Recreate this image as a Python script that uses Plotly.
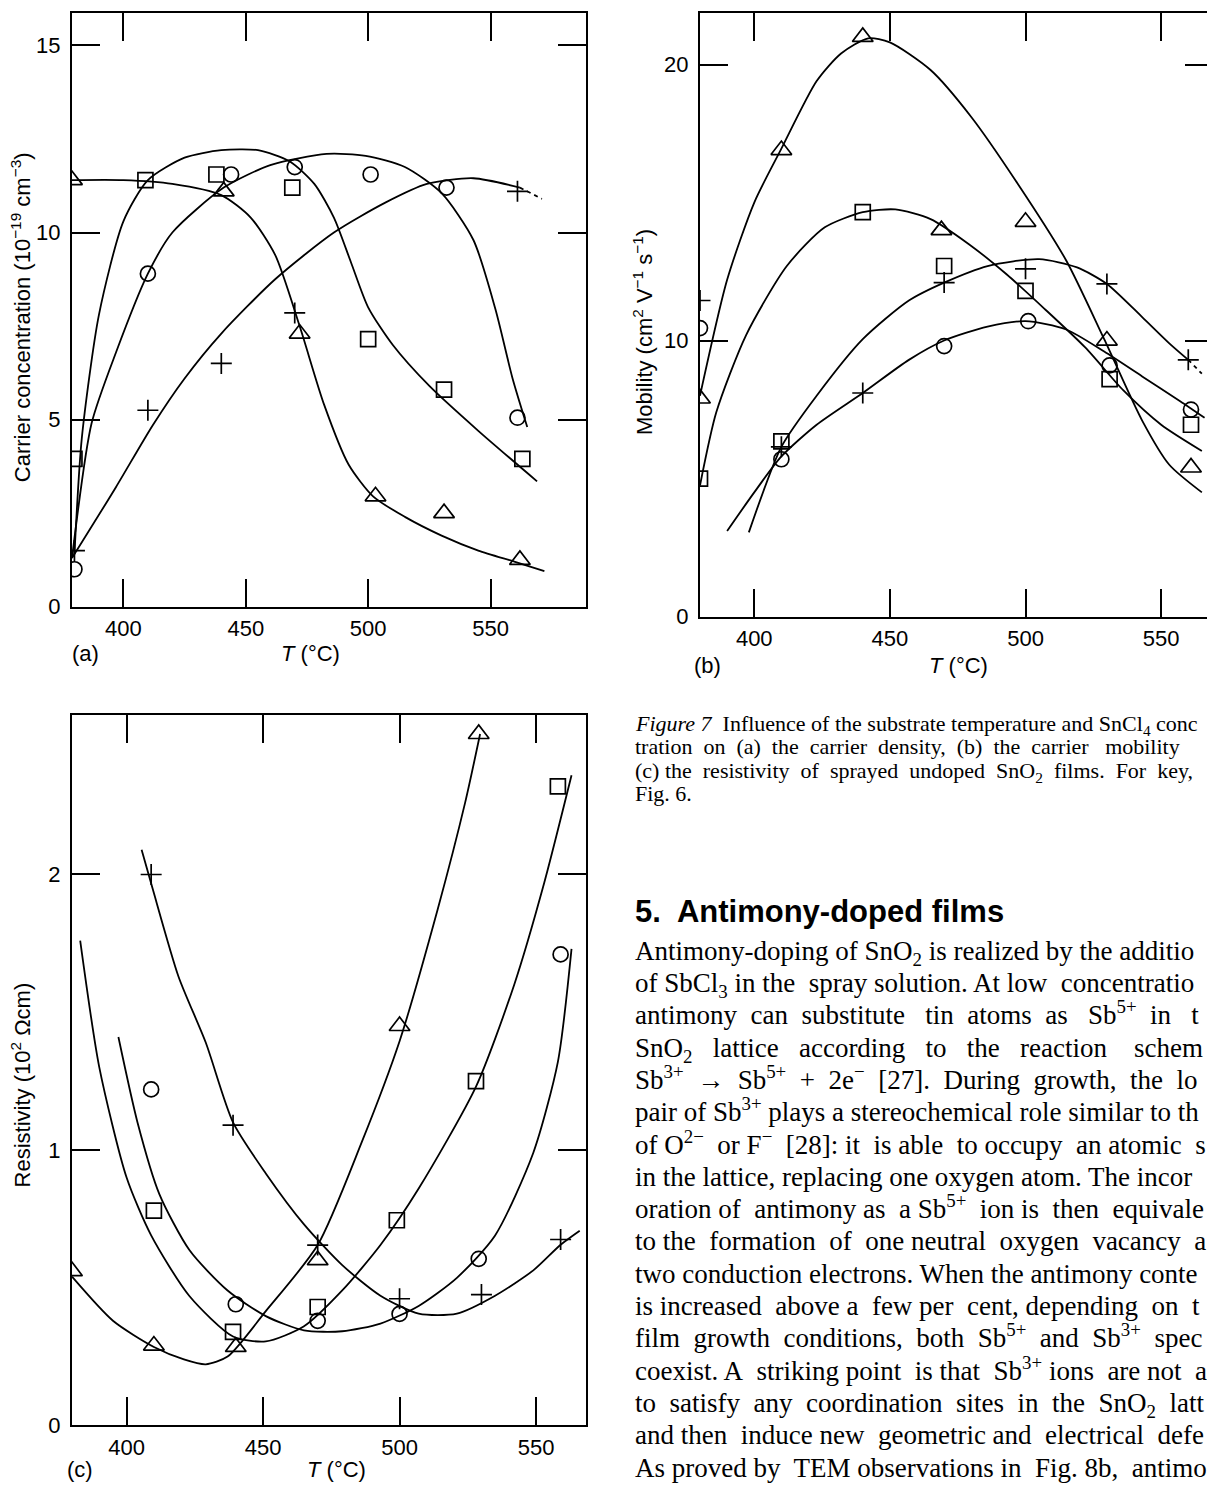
import plotly.graph_objects as go

W, H = 1207, 1492
SANS = "Liberation Sans, Arial, Helvetica, sans-serif"
SERIF = "Liberation Serif, Times New Roman, serif"

# ---------------- Panel (a): carrier concentration (1e19 cm^-3) ----------------
a_tri_T = [379, 441, 472, 503, 531, 562]
a_tri_v = [11.4, 11.1, 7.3, 2.95, 2.5, 1.25]
a_sq_T = [380, 409, 438, 469, 500, 531, 563]
a_sq_v = [3.95, 11.4, 11.55, 11.2, 7.15, 5.8, 3.95]
a_ci_T = [380, 410, 444, 470, 501, 532, 561]
a_ci_v = [1.0, 8.9, 11.55, 11.75, 11.55, 11.2, 5.05]
a_pl_T = [380, 410, 440, 470, 561]
a_pl_v = [1.5, 5.25, 6.5, 7.85, 11.1]

a_tri_curve_T = [379, 400, 420, 440, 452, 462, 472, 482, 492, 502, 515, 530, 545, 560, 572]
a_tri_curve_v = [11.4, 11.4, 11.3, 11.0, 10.4, 9.4, 7.5, 5.4, 3.8, 2.95, 2.4, 1.9, 1.5, 1.2, 0.95]
a_sq_curve_T = [380, 383, 390, 400, 410, 425, 440, 455, 468, 478, 486, 493, 500, 510, 525, 545, 569]
a_sq_curve_v = [1.4, 4.5, 7.8, 10.3, 11.4, 12.0, 12.2, 12.2, 11.9, 11.3, 10.4, 9.2, 8.0, 7.0, 5.9, 4.7, 3.35]
a_ci_curve_T = [379, 387, 397, 410, 420, 441, 460, 483, 499, 515, 530, 543, 552, 559, 565]
a_ci_curve_v = [1.3, 4.9, 6.8, 8.9, 10.0, 11.2, 11.8, 12.1, 12.05, 11.75, 11.05, 9.8, 7.95, 6.1, 4.8]
a_pl_curve_T = [379, 397, 412, 425, 440, 462, 486, 507, 524, 543, 562]
a_pl_curve_v = [1.3, 3.2, 4.85, 6.1, 7.3, 8.75, 10.0, 10.8, 11.3, 11.45, 11.2]
a_pl_dash_T = [562, 571]
a_pl_dash_v = [11.2, 10.9]

# ---------------- Panel (b): mobility (cm2 V-1 s-1) ----------------
b_tri_T = [380, 410, 440, 469, 500, 530, 561]
b_tri_v = [7.9, 16.9, 21.0, 14.0, 14.3, 10.0, 5.4]
b_sq_T = [380, 410, 440, 470, 500, 531, 561]
b_sq_v = [5.0, 6.35, 14.65, 12.7, 11.8, 8.6, 6.95]
b_ci_T = [380, 410, 470, 501, 531, 561]
b_ci_v = [10.45, 5.7, 9.8, 10.7, 9.1, 7.5]
b_pl_T = [380, 410, 440, 470, 500, 530, 560]
b_pl_v = [11.45, 6.15, 8.1, 12.1, 12.6, 12.05, 9.3]

b_tri_curve_T = [380, 390, 400, 410, 423, 432, 442, 450, 465, 480, 497, 515, 529, 543, 553, 565]
b_tri_curve_v = [8.0, 12.2, 15.0, 16.95, 19.4, 20.4, 20.95, 20.8, 19.8, 18.1, 15.7, 12.9, 10.05, 7.1, 5.5, 4.5]
b_sq_curve_T = [380, 386, 397, 412, 426, 440, 452, 465, 479, 493, 507, 522, 536, 550, 565]
b_sq_curve_v = [4.75, 7.4, 10.2, 12.7, 14.1, 14.65, 14.75, 14.4, 13.5, 12.4, 11.15, 9.75, 8.2, 6.95, 6.0]
b_ci_curve_T = [390, 400, 410, 423, 440, 457, 470, 486, 500, 515, 529, 543, 557, 566]
b_ci_curve_v = [3.1, 4.5, 5.8, 6.95, 8.1, 9.3, 10.0, 10.5, 10.7, 10.4, 9.6, 8.7, 7.8, 7.2]
b_pl_curve_T = [398, 410, 423, 440, 457, 470, 486, 505, 519, 530, 543, 553, 560]
b_pl_curve_v = [3.05, 6.15, 8.0, 10.05, 11.45, 12.1, 12.7, 12.95, 12.65, 12.05, 10.85, 9.9, 9.3]
b_pl_dash_T = [560, 565]
b_pl_dash_v = [9.3, 8.8]

# ---------------- Panel (c): resistivity (1e2 ohm cm) ----------------
c_tri_T = [380, 410, 440, 470, 500, 529]
c_tri_v = [0.56, 0.29, 0.285, 0.60, 1.45, 2.51]
c_sq_T = [410, 439, 470, 499, 528, 558]
c_sq_v = [0.78, 0.34, 0.43, 0.745, 1.25, 2.32]
c_ci_T = [409, 440, 470, 500, 529, 559]
c_ci_v = [1.22, 0.44, 0.38, 0.405, 0.605, 1.71]
c_pl_T = [409, 439, 470, 500, 530, 559]
c_pl_v = [2.0, 1.09, 0.655, 0.46, 0.475, 0.675]

c_tri_curve_T = [380, 395, 410, 421, 429, 437, 451, 470, 486, 500, 514, 524, 529.5]
c_tri_curve_v = [0.54, 0.38, 0.285, 0.24, 0.222, 0.25, 0.415, 0.655, 1.025, 1.395, 1.875, 2.26, 2.51]
c_sq_curve_T = [383, 390, 400, 409, 423, 439, 451, 465, 479, 493, 507, 528, 542, 553, 563]
c_sq_curve_v = [1.76, 1.3, 0.9, 0.69, 0.47, 0.323, 0.305, 0.36, 0.49, 0.655, 0.86, 1.23, 1.6, 1.97, 2.36]
c_ci_curve_T = [397, 404, 412, 423, 437, 451, 465, 479, 493, 507, 521, 535, 549, 558, 563]
c_ci_curve_v = [1.41, 1.1, 0.84, 0.637, 0.49, 0.397, 0.345, 0.342, 0.37, 0.434, 0.536, 0.69, 0.99, 1.32, 1.73]
c_pl_curve_T = [405.5, 409.5, 419, 429, 439, 451, 465, 479, 493, 507, 521, 535, 549, 559, 566]
c_pl_curve_v = [2.09, 1.95, 1.63, 1.39, 1.1, 0.915, 0.73, 0.582, 0.471, 0.406, 0.406, 0.471, 0.563, 0.656, 0.707]

# ---------------- Text ----------------
caption_lines = [
    "<i>Figure 7</i>\u00a0 Influence of the substrate temperature and SnCl<sub>4</sub> conc",
    "tration on (a) the carrier density, (b) the carrier mobility",
    "(c) the resistivity of sprayed undoped SnO<sub>2</sub> films. For key,",
    "Fig. 6.",
]
caption_extra = [0, 10, 8, 0]          # extra spaces to imitate justified lines
heading = "<b>5.\u00a0 Antimony-doped films</b>"
body_lines = [
    "Antimony-doping of SnO<sub>2</sub> is realized by the additio",
    "of SbCl<sub>3</sub> in the spray solution. At low concentratio",
    "antimony can substitute tin atoms as Sb<sup>5+</sup> in t",
    "SnO<sub>2</sub> lattice according to the reaction schem",
    "Sb<sup>3+</sup> → Sb<sup>5+</sup> + 2e<sup>−</sup> [27]. During growth, the lo",
    "pair of Sb<sup>3+</sup> plays a stereochemical role similar to th",
    "of O<sup>2−</sup> or F<sup>−</sup> [28]: it is able to occupy an atomic s",
    "in the lattice, replacing one oxygen atom. The incor",
    "oration of antimony as a Sb<sup>5+</sup> ion is then equivale",
    "to the formation of one neutral oxygen vacancy a",
    "two conduction electrons. When the antimony conte",
    "is increased above a few per cent, depending on t",
    "film growth conditions, both Sb<sup>5+</sup> and Sb<sup>3+</sup> spec",
    "coexist. A striking point is that Sb<sup>3+</sup> ions are not a",
    "to satisfy any coordination sites in the SnO<sub>2</sub> latt",
    "and then induce new geometric and electrical defe",
    "As proved by TEM observations in Fig. 8b, antimo",
]
body_extra = [0, 2, 11, 13, 9, 0, 6, 0, 5, 6, 0, 5, 7, 5, 8, 4, 3]


def justify(line, extra):
    words = line.split(" ")
    gaps = len(words) - 1
    if gaps <= 0 or extra <= 0:
        return line
    out = words[0]
    for i in range(gaps):
        n = (i + 1) * extra // gaps - i * extra // gaps
        out += "\u00a0" * n + " " + words[i + 1]
    return out


def px(x):
    return x / W


def py(y):
    return 1 - y / H


fig = go.Figure()

SYM = {
    "tri": ("triangle-up-open", 18),
    "sq": ("square-open", 15),
    "ci": ("circle-open", 15),
    "pl": ("cross-thin-open", 15),
}


def add_curve(T, v, xa, ya, dash="solid"):
    fig.add_trace(go.Scatter(
        x=T, y=v, mode="lines", xaxis=xa, yaxis=ya, showlegend=False, hoverinfo="skip",
        line=dict(color="black", width=1.8, shape="spline", smoothing=0.7, dash=dash)))


def add_markers(T, v, key, xa, ya):
    sym, size = SYM[key]
    fig.add_trace(go.Scatter(
        x=T, y=v, mode="markers", xaxis=xa, yaxis=ya, showlegend=False, hoverinfo="skip",
        marker=dict(symbol=sym, size=size, color="black", line=dict(color="black", width=1.7))))


# panel a
for T, v in [(a_tri_curve_T, a_tri_curve_v), (a_sq_curve_T, a_sq_curve_v),
             (a_ci_curve_T, a_ci_curve_v), (a_pl_curve_T, a_pl_curve_v)]:
    add_curve(T, v, "x", "y")
add_curve(a_pl_dash_T, a_pl_dash_v, "x", "y", dash="4px,4px")
add_markers(a_tri_T, a_tri_v, "tri", "x", "y")
add_markers(a_sq_T, a_sq_v, "sq", "x", "y")
add_markers(a_ci_T, a_ci_v, "ci", "x", "y")
add_markers(a_pl_T, a_pl_v, "pl", "x", "y")

# panel b
for T, v in [(b_tri_curve_T, b_tri_curve_v), (b_sq_curve_T, b_sq_curve_v),
             (b_ci_curve_T, b_ci_curve_v), (b_pl_curve_T, b_pl_curve_v)]:
    add_curve(T, v, "x2", "y2")
add_curve(b_pl_dash_T, b_pl_dash_v, "x2", "y2", dash="4px,4px")
add_markers(b_tri_T, b_tri_v, "tri", "x2", "y2")
add_markers(b_sq_T, b_sq_v, "sq", "x2", "y2")
add_markers(b_ci_T, b_ci_v, "ci", "x2", "y2")
add_markers(b_pl_T, b_pl_v, "pl", "x2", "y2")
# invisible trace to carry the right-hand tick stubs of panel b
fig.add_trace(go.Scatter(x=[None], y=[None], xaxis="x2", yaxis="y4", showlegend=False,
                         hoverinfo="skip", mode="markers"))

# panel c
for T, v in [(c_tri_curve_T, c_tri_curve_v), (c_sq_curve_T, c_sq_curve_v),
             (c_ci_curve_T, c_ci_curve_v), (c_pl_curve_T, c_pl_curve_v)]:
    add_curve(T, v, "x3", "y3")
add_markers(c_tri_T, c_tri_v, "tri", "x3", "y3")
add_markers(c_sq_T, c_sq_v, "sq", "x3", "y3")
add_markers(c_ci_T, c_ci_v, "ci", "x3", "y3")
add_markers(c_pl_T, c_pl_v, "pl", "x3", "y3")


def ax(**kw):
    d = dict(showline=True, linecolor="black", linewidth=2, ticks="inside", ticklen=28,
             tickwidth=2, tickcolor="black", showgrid=False, zeroline=False,
             tickfont=dict(family=SANS, size=22, color="black"), fixedrange=True)
    d.update(kw)
    return d


T_TICKS = [400, 450, 500, 550]

fig.update_layout(
    width=W, height=H, margin=dict(l=0, r=0, t=0, b=0),
    paper_bgcolor="white", plot_bgcolor="white", showlegend=False,
    xaxis=ax(domain=[px(72), px(586)], range=[379, 589], anchor="y", mirror="ticks",
             tickvals=T_TICKS, ticklabelstandoff=1),
    yaxis=ax(domain=[py(612), py(13)], range=[0, 15.87], anchor="x", mirror="ticks",
             tickvals=[0, 5, 10, 15], ticklabelstandoff=5),
    xaxis2=ax(domain=[px(700), 1.0], range=[380, 566.9], anchor="y2", mirror="ticks",
              tickvals=T_TICKS, ticklabelstandoff=1),
    yaxis2=ax(domain=[py(622), py(13)], range=[0, 21.87], anchor="x2", mirror=False,
              tickvals=[0, 10, 20], ticklabelstandoff=5),
    yaxis4=dict(overlaying="y2", side="right", anchor="x2", range=[0, 21.87],
                tickvals=[10, 20], ticks="inside", ticklen=22, tickwidth=2,
                tickcolor="black", showline=False, showgrid=False, zeroline=False,
                showticklabels=False, fixedrange=True),
    xaxis3=ax(domain=[px(72), px(586)], range=[380, 568.3], anchor="y3", mirror="ticks",
              tickvals=T_TICKS, ticklabelstandoff=1),
    yaxis3=ax(domain=[py(1438), py(721)], range=[0, 2.58], anchor="x3", mirror="ticks",
              tickvals=[0, 1, 2], ticklabelstandoff=5),
)

anns = []


def note(text, x, y, size=22, family=SANS, angle=0, xanchor="center", yanchor="middle"):
    anns.append(dict(text=text, x=px(x), y=py(y), xref="paper", yref="paper",
                     showarrow=False, textangle=angle, xanchor=xanchor, yanchor=yanchor,
                     font=dict(family=family, size=size, color="black")))


# axis titles and panel letters
note("Carrier concentration (10<sup>−19</sup> cm<sup>−3</sup>)", 21, 320, angle=-90)
note("<i>T</i> (°C)", 310, 659)
note("(a)", 85, 659)
note("Mobility (cm<sup>2</sup> V<sup>−1</sup> s<sup>−1</sup>)", 643, 335, angle=-90)
note("<i>T</i> (°C)", 958, 671)
note("(b)", 707, 671)
note("Resistivity (10<sup>2</sup> Ωcm)", 21, 1095, angle=-90)
note("<i>T</i> (°C)", 336, 1482)
note("(c)", 80, 1482)

PAD = "<sup>\u00a0</sup><sub>\u00a0</sub>"  # equalises line boxes so baselines stay evenly spaced

# caption
for i, line in enumerate(caption_lines):
    note(justify(line, caption_extra[i]) + PAD, 633, 730 + 23.5 * i, size=22, family=SERIF,
         xanchor="left")
# heading
note(heading, 633, 920, size=31, family=SANS, xanchor="left")
# body text
for i, line in enumerate(body_lines):
    note(justify(line, body_extra[i]) + PAD, 633, 959 + 32.6 * i, size=27, family=SERIF,
         xanchor="left")

fig.update_layout(annotations=anns)

fig.write_html("out.html", config={"displayModeBar": False},
               post_script="document.body.style.margin='0';")
